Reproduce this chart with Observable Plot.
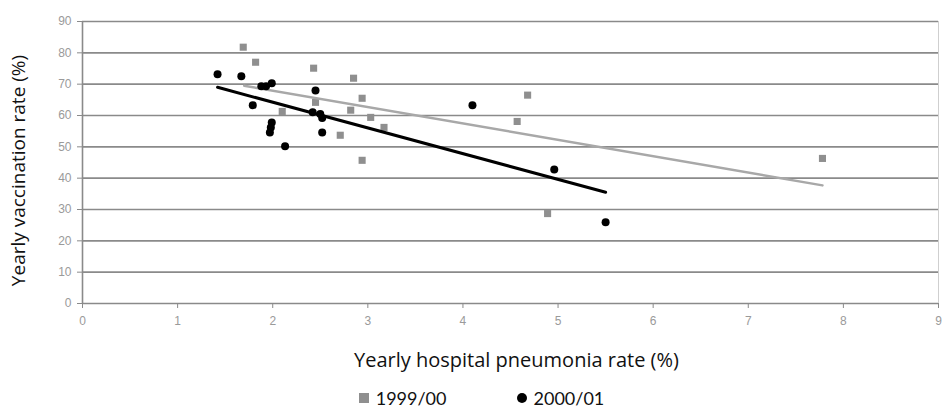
<!DOCTYPE html>
<html><head><meta charset="utf-8">
<script src="https://cdn.jsdelivr.net/npm/d3@7"></script>
<script src="https://cdn.jsdelivr.net/npm/@observablehq/plot@0.6"></script>
<style>
body{margin:0;background:#fff;}
#chart svg{display:block;}
#legend{height:37px;display:flex;justify-content:center;align-items:center;padding-left:18px;padding-bottom:2px;box-sizing:border-box;font-family:Lato,"Open Sans",sans-serif;font-size:18px;color:#111;}
#legend .item{display:flex;align-items:center;margin:0 35px;}
#legend .sw{display:inline-block;width:10px;height:10px;margin-right:7px;}
</style></head><body>
<div id="chart"></div>
<div id="legend"></div>
<script>
// Data
const seriesNames = ["1999/00", "2000/01"];
const rate9900 = [1.69, 1.82, 2.10, 2.43, 2.45, 2.85, 2.94, 2.82, 3.03, 3.17, 2.71, 2.94, 4.68, 4.57, 4.89, 7.78];
const vacc9900 = [81.8, 77.0, 61.3, 75.1, 64.2, 71.9, 65.5, 61.7, 59.4, 56.2, 53.7, 45.7, 66.5, 58.1, 28.7, 46.3];
const rate0001 = [1.42, 1.67, 1.79, 1.88, 1.93, 1.99, 1.99, 1.98, 1.97, 2.13, 2.45, 2.42, 2.50, 2.52, 2.52, 4.10, 4.96, 5.50];
const vacc0001 = [73.2, 72.5, 63.3, 69.3, 69.3, 70.3, 57.8, 56.2, 54.6, 50.2, 68.0, 61.0, 60.5, 59.2, 54.6, 63.3, 42.8, 25.9];
// Linear trend lines (endpoints)
const trendX9900 = [1.70, 7.78];
const trendY9900 = [69.5, 37.7];
const trendX0001 = [1.42, 5.50];
const trendY0001 = [69.0, 35.5];
const xTicks = [0, 1, 2, 3, 4, 5, 6, 7, 8, 9];
const yTicks = [0, 10, 20, 30, 40, 50, 60, 70, 80, 90];
const xLabel = "Yearly hospital pneumonia rate (%)";
const yLabel = "Yearly vaccination rate (%)";

const pts9900 = rate9900.map((x, i) => ({x, y: vacc9900[i]}));
const pts0001 = rate0001.map((x, i) => ({x, y: vacc0001[i]}));
const tr9900 = trendX9900.map((x, i) => ({x, y: trendY9900[i]}));
const tr0001 = trendX0001.map((x, i) => ({x, y: trendY0001[i]}));

const chart = Plot.plot({
  width: 945,
  height: 380,
  marginLeft: 82,
  marginRight: 7,
  marginTop: 21,
  marginBottom: 77,
  style: {background: "#fff", fontFamily: "'Liberation Sans', Arial, sans-serif"},
  x: {domain: [0, 9]},
  y: {domain: [0, 90]},
  marks: [
    Plot.ruleY(yTicks, {stroke: "#8a8a8a", strokeWidth: 1.6}),
    Plot.ruleX([0], {stroke: "#8a8a8a", strokeWidth: 1.6}),
    Plot.ruleX([9], {stroke: "#cfcfcf", strokeWidth: 1}),
    Plot.axisX({ticks: xTicks, tickSize: 5, tickPadding: 8, fontSize: 12, color: "#9a9a9a", stroke: "#8a8a8a", label: null}),
    Plot.axisY({ticks: yTicks, tickSize: 5, tickPadding: 6, fontSize: 12, color: "#9a9a9a", stroke: "#8a8a8a", label: null}),
    Plot.dot(pts9900, {x: "x", y: "y", symbol: "square", r: 4, fill: "#8f8f8f", stroke: "none"}),
    Plot.line(tr9900, {x: "x", y: "y", stroke: "#a8a8a8", strokeWidth: 2.5}),
    Plot.line(tr0001, {x: "x", y: "y", stroke: "#000", strokeWidth: 3}),
    Plot.dot(pts0001, {x: "x", y: "y", r: 4, fill: "#000", stroke: "none"}),
    Plot.text([xLabel], {frameAnchor: "bottom", textAnchor: "middle", dy: 63, dx: 6, fontSize: 20, fill: "#111", fontFamily: "'Open Sans', Lato, sans-serif"}),
    Plot.text([yLabel], {frameAnchor: "left", textAnchor: "middle", dx: -64, dy: 8, rotate: -90, fontSize: 19, fill: "#111", fontFamily: "'Open Sans', Lato, sans-serif"})
  ]
});
document.getElementById("chart").append(chart);

const legend = document.getElementById("legend");
const styles = [
  {bg: "#8f8f8f", radius: "0"},
  {bg: "#000", radius: "50%"}
];
seriesNames.forEach((name, i) => {
  const item = document.createElement("span");
  item.className = "item";
  const sw = document.createElement("span");
  sw.className = "sw";
  sw.style.background = styles[i].bg;
  sw.style.borderRadius = styles[i].radius;
  item.append(sw, document.createTextNode(name));
  legend.append(item);
});
</script></body></html>
